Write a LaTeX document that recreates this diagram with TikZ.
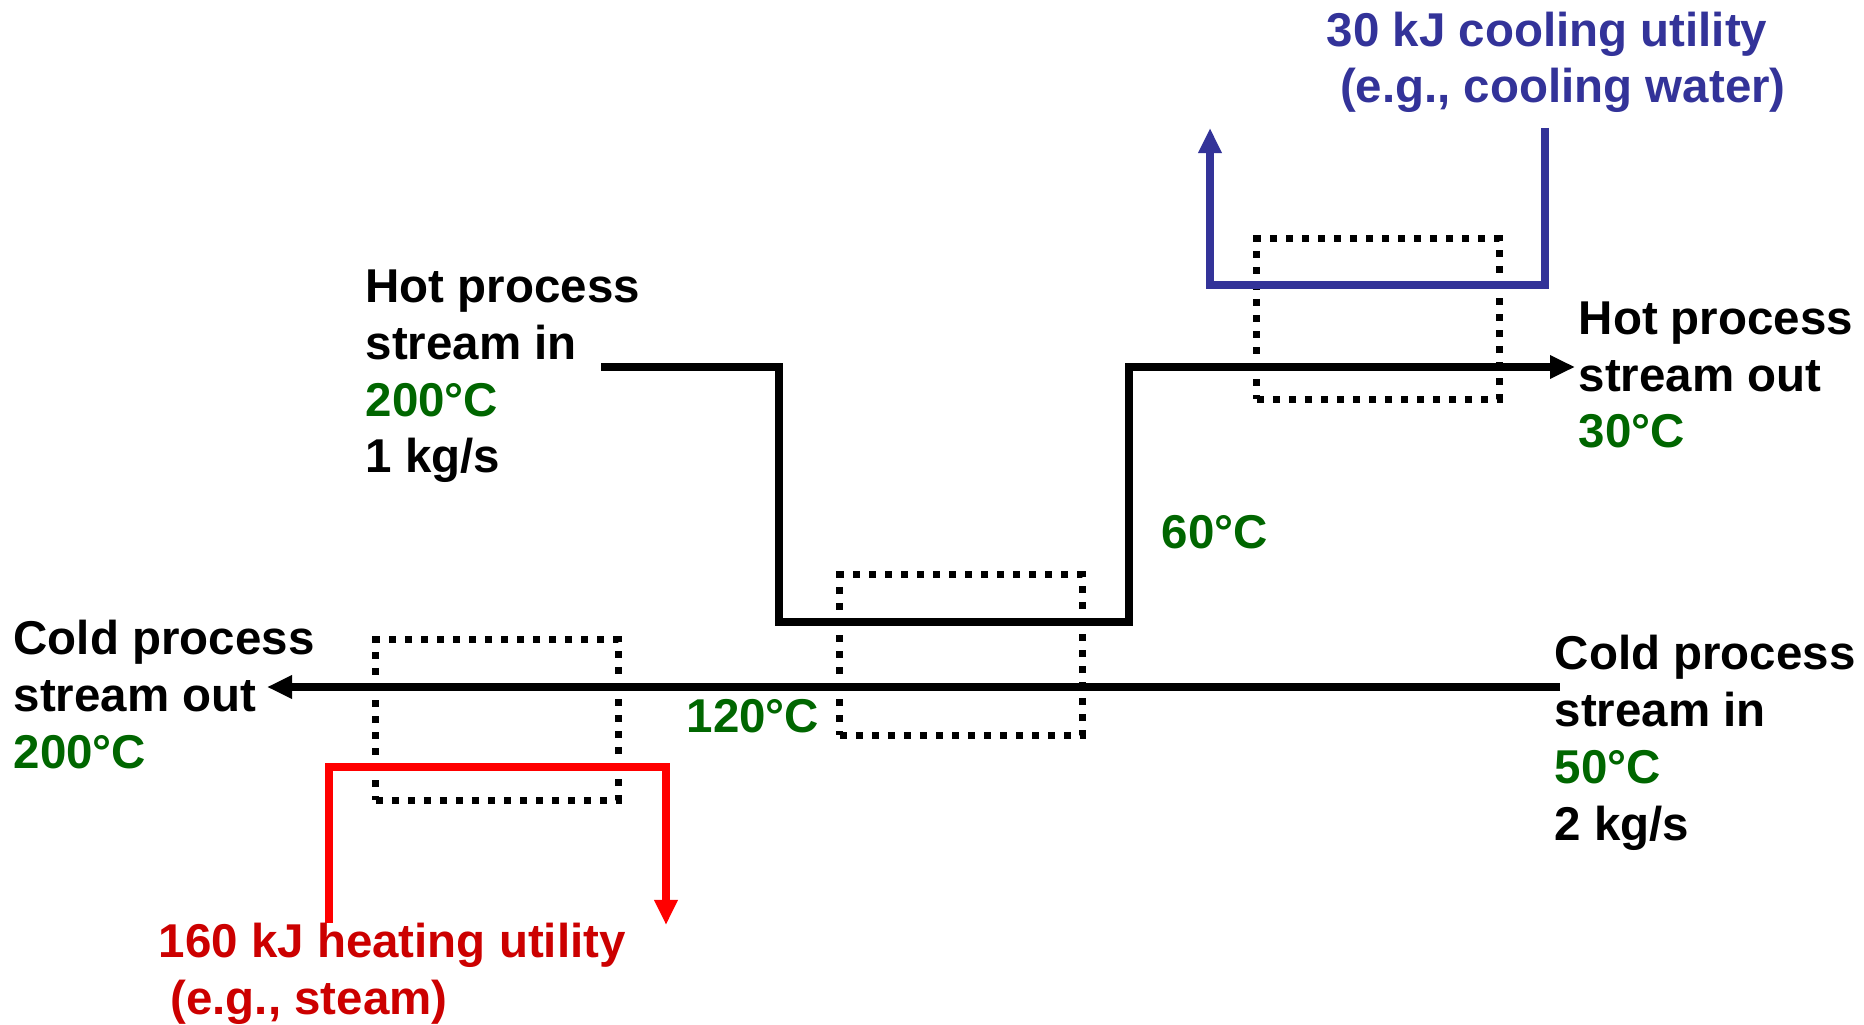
\documentclass[tikz,border=0pt]{standalone}
\usepackage{fontspec}
\setmainfont{Liberation Sans}
\usepackage{xcolor}
\usepackage{tikz}
\usetikzlibrary{arrows.meta,positioning}
\definecolor{tempgreen}{RGB}{0,102,0}
\definecolor{coolblue}{RGB}{51,51,153}
\definecolor{heatred}{RGB}{255,0,0}
\definecolor{heattext}{RGB}{204,0,0}

\begin{document}
\begin{tikzpicture}[
  x=0.01cm, y=-0.01cm,
  lbl/.style={anchor=base west, inner sep=0pt, align=left, font=\fontsize{13.5pt}{16.2pt}\selectfont\bfseries},
  stream/.style={line width=0.075cm},
  arrow/.style={-{Triangle[length=0.25cm, width=0.22cm]}},
  hx/.style={draw, line width=0.07cm, dash pattern=on 0.07cm off 0.09cm, minimum width=2.42cm, minimum height=1.6cm, inner sep=0pt}
]
\useasboundingbox (0,0) rectangle (1864,1025);

% heat exchangers
\node[hx] (hxheat) at (497,720) {};
\node[hx] (hxmid) at (961,655) {};
\node[hx] (hxcool) at (1378,319) {};

% stream ends and corners
\coordinate (hotin) at (601,367);
\coordinate (hotlowA) at (779,622);
\coordinate (hotlowB) at (1129,622);
\coordinate (hotout) at (1575,367);
\coordinate (coldin) at (1560,687);
\coordinate (coldout) at (267,687);
\coordinate (coolin) at (1545,128);
\coordinate (coolR) at (1545,285);
\coordinate (coolL) at (1210,285);
\coordinate (coolout) at (1210,128);
\coordinate (heatin) at (329,923);
\coordinate (heatL) at (329,767);
\coordinate (heatR) at (666,767);
\coordinate (heatout) at (666,925);

\draw[stream, arrow] (hotin) -| (hotlowA) -- (hotlowB) |- (hotout);
\draw[stream, arrow] (coldin) -- (coldout);
\draw[stream, arrow, coolblue] (coolin) -- (coolR) -- (coolL) -- (coolout);
\draw[stream, arrow, heatred] (heatin) -- (heatL) -- (heatR) -- (heatout);

% labels (anchored at the baseline of the last line)
\node[lbl] (hotinlbl) at (365,473) {Hot process\\stream in\\\textcolor{tempgreen}{200°C}\\1 kg/s};
\node[lbl] (hotoutlbl) at (1578,448) {Hot process\\stream out\\\textcolor{tempgreen}{30°C}};
\node[lbl] (coldoutlbl) at (13,768) {Cold process\\stream out\\\textcolor{tempgreen}{200°C}};
\node[lbl] (coldinlbl) at (1554,840) {Cold process\\stream in\\\textcolor{tempgreen}{50°C}\\2 kg/s};
\node[lbl, tempgreen] (midhot) at (1161,549) {60°C};
\node[lbl, tempgreen] (midcold) at (686,732) {120°C};
\node[lbl, coolblue] (coollbl) at (1326,103) {30 kJ cooling utility\\\hspace*{0.28em}(e.g., cooling water)};
\node[lbl, heattext] (heatlbl) at (158,1014) {160 kJ heating utility\\\hspace*{0.25em}(e.g., steam)};
\end{tikzpicture}
\end{document}
